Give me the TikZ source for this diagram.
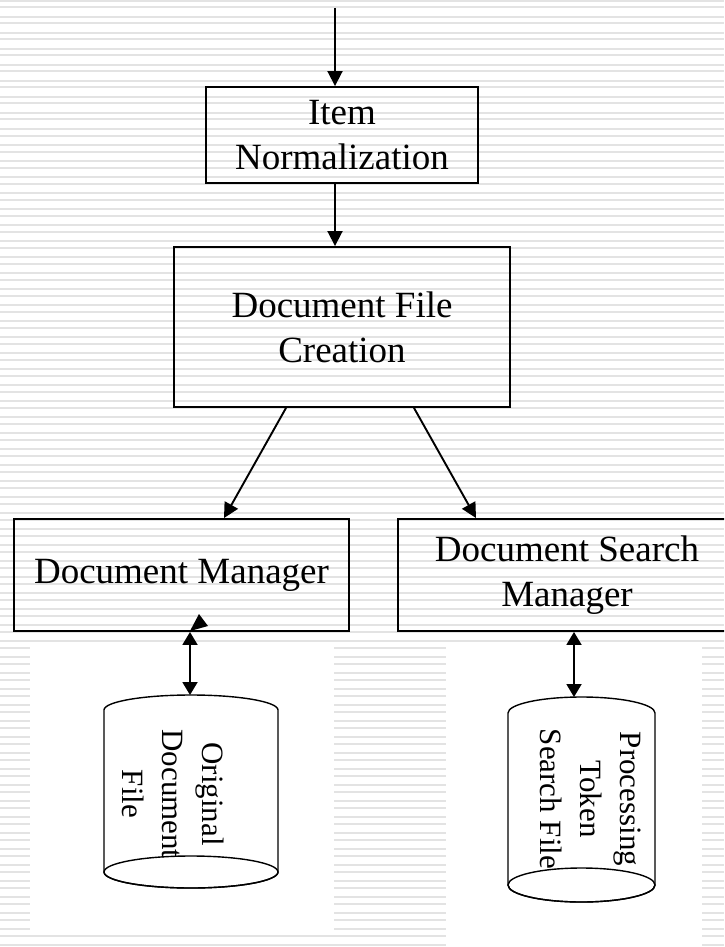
\documentclass[tikz,border=0pt]{standalone}
\usepackage{fontspec}
\setmainfont{Liberation Serif}
\usetikzlibrary{arrows.meta}

\begin{document}
\begin{tikzpicture}
  [x=1pt,y=-1pt,
  box/.style={draw,line width=1.9pt,inner sep=0pt,align=center,font=\fontsize{37}{45}\selectfont},
  flow/.style={-{Triangle[length=15pt,width=15pt]},line width=1.9pt},
  both/.style={{Triangle[length=13pt,width=15pt]}-{Triangle[length=13pt,width=15pt]},line width=1.9pt},
  stripe/.style={gray!22,line width=2pt},
  can/.style={line width=1.4pt},
  cantext/.style={rotate=-90,align=center,inner sep=0pt,font=\fontsize{31}{40}\selectfont}]

  \useasboundingbox (0,0) rectangle (724,947);
  \clip (0,0) rectangle (724,947);

  % striped background
  \foreach \y in {1,17,...,945} {
    \draw [stripe] (0,\y) -- (724,\y);
    \draw [stripe] (0,\y+6.5) -- (724,\y+6.5);
  }
  \fill [white] (30,645) rectangle (334,933);
  \fill [white] (446,645) rectangle (702,947);

  \coordinate (in) at (335,8);
  \node (item) [box,minimum width=272pt,minimum height=96pt] at (342,135) {Item\\Normalization};
  \node (dfc) [box,minimum width=336pt,minimum height=160pt] at (342,327) {Document File\\Creation};
  \node (docman) [box,minimum width=335pt,minimum height=112pt] at (181.5,575) {Document Manager};
  \node (search) [box,minimum width=338pt,minimum height=112pt] at (567,575) {Document Search\\Manager};

  % storage cans
  \coordinate (origtop) at (190,695);
  \draw [can] (104,710) arc [start angle=180,end angle=360,x radius=87,y radius=15]
    -- (278,872) arc [start angle=0,end angle=180,x radius=87,y radius=16] -- cycle;
  \draw [can] (191,872) ellipse [x radius=87,y radius=16];
  \node (origtxt) [cantext] at (173,794) {Original\\Document\\File};

  \coordinate (tokentop) at (574,697);
  \draw [can] (508,713) arc [start angle=180,end angle=360,x radius=73.5,y radius=16]
    -- (655,885) arc [start angle=0,end angle=180,x radius=73.5,y radius=17] -- cycle;
  \draw [can] (581.5,885) ellipse [x radius=73.5,y radius=17];
  \node (tokentxt) [cantext] at (591,799) {Processing\\Token\\Search File};

  \draw [flow] (in) -- (in |- item.north);
  \draw [flow] (item.south -| in) -- (in |- dfc.north);
  \draw [flow] ([xshift=-56pt]dfc.south) -- ([xshift=42.5pt]docman.north);
  \draw [flow] ([xshift=72pt]dfc.south) -- ([xshift=-91pt]search.north);
  \draw [both] (docman.south -| origtop) -- (origtop);
  \draw [both] (search.south -| tokentop) -- (tokentop);
  \fill (199,614) -- (190,631) -- (208,626) -- cycle;

\end{tikzpicture}
\end{document}
